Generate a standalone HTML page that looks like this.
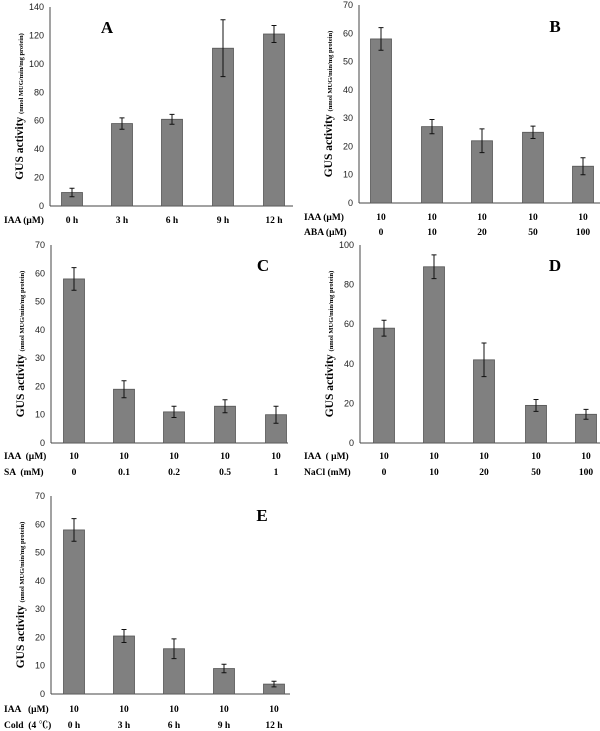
<!DOCTYPE html>
<html><head><meta charset="utf-8"><style>
body{margin:0;background:#fff;width:600px;height:731px;overflow:hidden}
svg{position:absolute;left:0;top:0}
text{font-family:"Liberation Serif","Noto Serif CJK SC",serif;fill:#000;white-space:pre}
.tick{font-family:"Liberation Sans",sans-serif;font-size:9px;fill:#222}
.lab{font-weight:bold;font-size:9.5px}
</style></head><body>
<svg id="fig" width="600" height="731"></svg>
<script>
const valsA=[9.5,58,61,111,121], errA=[3,4,3.5,20,6];
const valsB=[58,27,22,25,13], errB=[4,2.5,4.2,2.2,3];
const valsC=[58,19,11,13,10], errC=[4,3,2,2.3,3];
const valsD=[58,89,42,19,14.5], errD=[4,6,8.5,3,2.5];
const valsE=[58,20.5,16,9,3.5], errE=[4,2.3,3.5,1.5,1];
const rowsA=[["IAA (μM)",["0 h","3 h","6 h","9 h","12 h"]]];
const rowsB=[["IAA (μM)",["10","10","10","10","10"]],["ABA (μM)",["0","10","20","50","100"]]];
const rowsC=[["IAA  (μM)",["10","10","10","10","10"]],["SA  (mM)",["0","0.1","0.2","0.5","1"]]];
const rowsD=[["IAA  ( μM)",["10","10","10","10","10"]],["NaCl (mM)",["0","10","20","50","100"]]];
const rowsE=[["IAA   (μM)",["10","10","10","10","10"]],["Cold  (4 ℃)",["0 h","3 h","6 h","9 h","12 h"]]];
const ticksA=[0,20,40,60,80,100,120,140], ticks70=[0,10,20,30,40,50,60,70], ticksD=[0,20,40,60,80,100];
const NS="http://www.w3.org/2000/svg", svg=document.getElementById('fig');
function mk(tag,attrs,parent){const e=document.createElementNS(NS,tag);for(const k in attrs)e.setAttribute(k,attrs[k]);(parent||svg).appendChild(e);return e;}
function panel(id,letter,lx,ly,ax,y0,ytop,ymax,xend,centers,vals,errs,ticks,rows,rowY,rowLX){
  const g=mk('g',{});
  
  
  const yS=v=>y0-(v/ymax)*(y0-ytop);
  const ax1=mk('line',{x1:ax,y1:ytop,x2:ax,y2:y0,stroke:'#444','stroke-width':1},g);
  
  
  const ax2=mk('line',{x1:ax,y1:y0,x2:xend,y2:y0,stroke:'#444','stroke-width':1},g);
  
  
  ticks.forEach(t=>{const tx=mk('text',{x:ax-6,y:yS(t)+3,'text-anchor':'end',class:'tick'},g);tx.textContent=t;
    
    });
  const cy=(y0+ytop)/2;
  const tt=mk('text',{transform:`translate(${ax-27},${cy}) rotate(-90)`,'text-anchor':'middle'},g);
  
  
  const s1=mk('tspan',{'font-weight':'bold','font-size':'11.5px'},tt);s1.textContent='GUS activity ';
  const s2=mk('tspan',{'font-weight':'bold','font-size':'6.5px'},tt);s2.textContent='(nmol MUG/min/mg protein)';
  vals.forEach((v,i)=>{
    const c=centers[i],w=21;
    const r=mk('rect',{x:c-w/2,y:yS(v),width:w,height:y0-yS(v),fill:'#808080',stroke:'#555','stroke-width':0.8},g);
    
    
    const e=errs[i],t=yS(v+e),b=yS(v-e);
    const p=mk('path',{d:`M${c},${t}V${b}M${c-2.5},${t}H${c+2.5}M${c-2.5},${b}H${c+2.5}`,stroke:'#111','stroke-width':1,fill:'none'},g);
    
    
  });
  rows.forEach((row,ri)=>{
    const y=rowY[ri];
    const l=mk('text',{x:rowLX,y:y,class:'lab'},g);l.textContent=row[0];
    
    
    row[1].forEach((s,i)=>{const t=mk('text',{x:centers[i],y:y,'text-anchor':'middle',class:'lab'},g);t.textContent=s;
      
      });
  });
  const L=mk('text',{x:lx,y:ly,'font-weight':'bold','font-size':'17px','text-anchor':'middle'},g);L.textContent=letter;
  
  
}
panel('a','A',107,33,50,206,7,140,293,[72,122,172,223,274],valsA,errA,ticksA,rowsA,[223],4);
panel('b','B',555,32,359,203,5,70,600,[381,432,482,533,583],valsB,errB,ticks70,rowsB,[220,235],304);
panel('c','C',263,271,51,443,245,70,288,[74,124,174,225,276],valsC,errC,ticks70,rowsC,[459,475],4);
panel('d','D',555,271,360,443,245,100,600,[384,434,484,536,586],valsD,errD,ticksD,rowsD,[459,475],304);
panel('e','E',262,521,51,694,496,70,290,[74,124,174,224,274],valsE,errE,ticks70,rowsE,[712,728],4);
</script>
</body></html>
